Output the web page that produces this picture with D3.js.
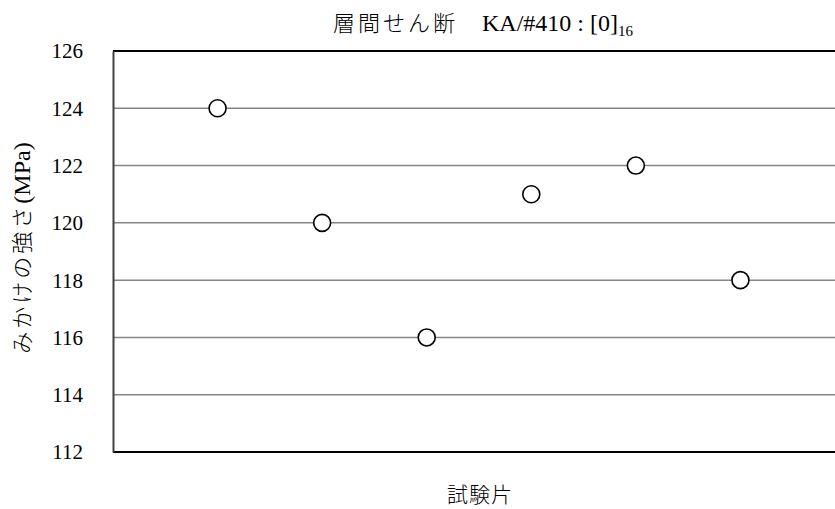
<!DOCTYPE html>
<html><head><meta charset="utf-8">
<script src="https://cdn.jsdelivr.net/npm/d3@7"></script>
<style>body{margin:0;background:#fff}</style>
</head><body>
<script>
const specimens = [1, 2, 3, 4, 5, 6];
const strengths = [124, 120, 116, 121, 122, 118];
const yTicks = [112, 114, 116, 118, 120, 122, 124, 126];

(function () {
const W = 835, H = 509;
const svg = d3.select("body").append("svg").attr("width", W).attr("height", H);
const mL = 113, mR = 845, mT = 51, mB = 452;
const x = d3.scaleLinear().domain([0, 7]).range([mL, mR]);
const y = d3.scaleLinear().domain([112, 126]).range([mB, mT]);
const serif = "'Liberation Serif','Times New Roman',serif";
const jp = "'Noto Sans CJK JP','Noto Sans',sans-serif";

// gridlines
svg.append("g").selectAll("line").data(yTicks.filter(d => d > 112 && d < 126)).join("line")
  .attr("x1", mL).attr("x2", mR).attr("y1", d => y(d)).attr("y2", d => y(d))
  .attr("stroke", "#868686").attr("stroke-width", 1.5);
// top & bottom borders
svg.append("line").attr("x1", mL).attr("x2", mR).attr("y1", y(126)).attr("y2", y(126)).attr("stroke", "#000").attr("stroke-width", 2);
svg.append("line").attr("x1", mL).attr("x2", mR).attr("y1", y(112)).attr("y2", y(112)).attr("stroke", "#000").attr("stroke-width", 2);

// y axis
const yAxis = d3.axisLeft(y).tickValues(yTicks).tickSize(0).tickPadding(30).tickFormat(d3.format("d"));
const gy = svg.append("g").attr("transform", `translate(${mL},0)`).call(yAxis);
gy.select(".domain").attr("stroke", "#404040").attr("stroke-width", 2);
gy.selectAll("text").style("font-family", serif).style("font-size", "21px").attr("fill", "#000").attr("dy", "0.33em");

// points
svg.append("g").selectAll("circle").data(specimens).join("circle")
  .attr("cx", d => x(d)).attr("cy", (d, i) => y(strengths[i])).attr("r", 8.5)
  .attr("fill", "#fff").attr("stroke", "#000").attr("stroke-width", 1.6);

// title
const t = svg.append("text").attr("x", 483).attr("y", 31).attr("text-anchor", "middle").attr("fill", "#000");
t.append("tspan").style("font-family", jp).style("font-weight", 300).style("font-size", "22px").style("letter-spacing", "3px").text("層間せん断");
t.append("tspan").style("font-family", serif).style("font-size", "24px").attr("xml:space", "preserve").text("    KA/#410 : [0]");
t.append("tspan").style("font-family", serif).style("font-size", "15px").attr("dy", 5).text("16");

// axis titles
svg.append("text").attr("x", 480).attr("y", 502).attr("text-anchor", "middle")
  .style("font-family", jp).style("font-weight", 300).style("font-size", "21px").style("letter-spacing", "1px").text("試験片");
const yl = svg.append("text").attr("transform", "translate(30,248) rotate(-90)").attr("text-anchor", "middle");
yl.append("tspan").style("font-family", jp).style("font-weight", 300).style("font-size", "22px").style("letter-spacing", "3px").text("みかけの強さ");
yl.append("tspan").style("font-family", serif).style("font-size", "24px").text("(MPa)");
})();
</script>
</body></html>
